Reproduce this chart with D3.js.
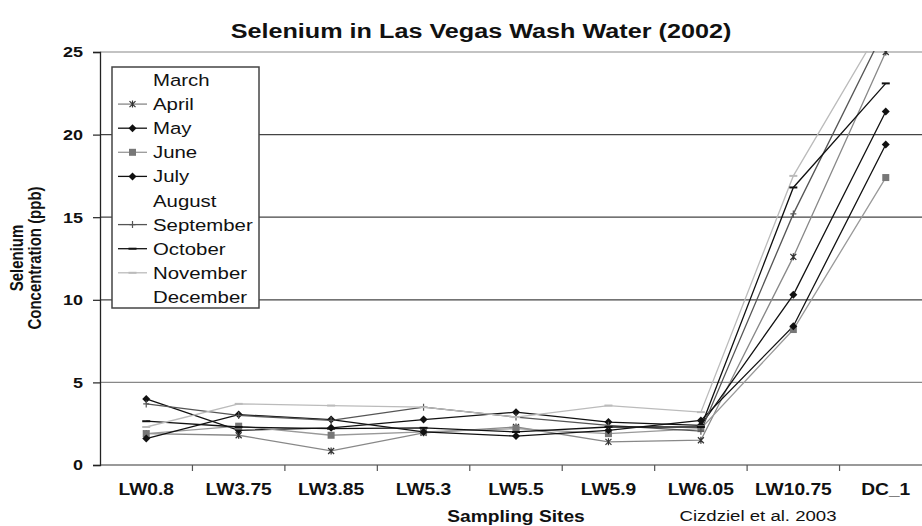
<!DOCTYPE html>
<html>
<head>
<meta charset="utf-8">
<script src="https://cdn.jsdelivr.net/npm/d3@7"></script>
<style>
  body { margin: 0; background: #fff; }
  text { font-family: "Liberation Sans", Arial, sans-serif; fill: #111; }
</style>
</head>
<body>
<div id="chart"></div>
<script>
// sampling sites and monthly selenium (ppb)
var sites = ["LW0.8", "LW3.75", "LW3.85", "LW5.3", "LW5.5", "LW5.9", "LW6.05", "LW10.75", "DC_1"];
var yTicks = [0, 5, 10, 15, 20, 25];

var march = [null, null, null, null, null, null, null, null, null];
var april = [1.9, 1.8, 0.85, 1.95, 2.3, 1.4, 1.5, 12.6, 25.0];
var may = [4.0, 2.1, 2.25, 2.75, 3.2, 2.6, 2.4, 10.3, 21.4];
var june = [1.9, 2.35, 1.8, 2.0, 2.2, 1.9, 2.2, 8.2, 17.4];
var july = [1.6, 3.05, 2.75, 2.0, 1.75, 2.1, 2.7, 8.4, 19.4];
var august = [null, null, null, null, null, null, null, null, null];
var september = [3.7, 3.0, 2.7, 3.5, 2.9, 2.4, 2.05, 15.2, 26.5];
var october = [2.65, 2.3, 2.2, 2.25, 2.0, 2.3, 2.3, 16.8, 23.1];
var november = [2.3, 3.7, 3.6, 3.5, 2.9, 3.6, 3.2, 17.5, 27.0];
var december = [null, null, null, null, null, null, null, null, null];

var series = [
  { name: "March", values: march, color: "#fff", mark: "none" },
  { name: "April", values: april, color: "#888", markColor: "#333", mark: "star" },
  { name: "May", values: may, color: "#111", mark: "diamond" },
  { name: "June", values: june, color: "#999", markColor: "#777", mark: "square" },
  { name: "July", values: july, color: "#111", mark: "diamond" },
  { name: "August", values: august, color: "#fff", mark: "none" },
  { name: "September", values: september, color: "#555", mark: "plus" },
  { name: "October", values: october, color: "#111", mark: "dash" },
  { name: "November", values: november, color: "#bbb", mark: "dash" },
  { name: "December", values: december, color: "#fff", mark: "none" }
];

var W = 922, H = 526, SX = 1.2;
var LEFT = 100, RIGHT = 932, TOP = 52, BOTTOM = 465;

var svg = d3.select("#chart").append("svg")
  .attr("width", W)
  .attr("height", H);

var x = d3.scaleBand().domain(sites).range([LEFT, RIGHT]);
var y = d3.scaleLinear().domain([0, 25]).range([BOTTOM, TOP]);
var cx = function (c) { return x(c) + x.bandwidth() / 2; };

// helper: text stretched sideways like the scanned original
function label(g, px, py, str, opts) {
  opts = opts || {};
  var t = g.append("text")
    .attr("transform", "translate(" + px + "," + py + ") scale(" + SX + ",1)" + (opts.rotate ? " rotate(" + opts.rotate + ")" : ""))
    .attr("text-anchor", opts.anchor || "start")
    .style("font-size", (opts.size || 16) + "px")
    .style("font-weight", opts.bold ? "bold" : "normal")
    .text(str);
  return t;
}

// gridlines
svg.append("g").selectAll("line")
  .data(yTicks.filter(function (d) { return d > 0; }))
  .enter().append("line")
  .attr("x1", LEFT).attr("x2", W)
  .attr("y1", function (d) { return y(d); })
  .attr("y2", function (d) { return y(d); })
  .style("stroke", function (d) { return (d === 25 || d === 5) ? "#888" : "#444"; })
  .style("stroke-width", 1.2);

// x axis line + ticks at category boundaries
svg.append("line")
  .attr("x1", LEFT).attr("x2", W)
  .attr("y1", BOTTOM).attr("y2", BOTTOM)
  .style("stroke", "#999").style("stroke-width", 2);

svg.append("g").selectAll("line")
  .data(sites.slice(1))
  .enter().append("line")
  .attr("x1", function (d) { return x(d); })
  .attr("x2", function (d) { return x(d); })
  .attr("y1", BOTTOM).attr("y2", BOTTOM + 6)
  .style("stroke", "#555").style("stroke-width", 1.2);

var xAxis = svg.append("g")
  .attr("transform", "translate(0," + BOTTOM + ")")
  .call(d3.axisBottom(x).tickSize(0));
xAxis.select(".domain").remove();
xAxis.selectAll("text")
  .attr("y", 30).attr("dy", null)
  .attr("transform", "scale(" + SX + ",1)")
  .style("font-size", "16px").style("font-weight", "bold")
  .style("font-family", "'Liberation Sans', Arial, sans-serif");

// y axis
var yAxis = svg.append("g")
  .attr("transform", "translate(" + LEFT + ",0)")
  .call(d3.axisLeft(y).tickValues(yTicks).tickSize(7));
yAxis.select(".domain").style("stroke", "#222").style("stroke-width", 1.3);
yAxis.selectAll(".tick line").style("stroke", "#222").style("stroke-width", 1.2);
yAxis.selectAll("text")
  .attr("x", -14.2)
  .attr("transform", "scale(" + SX + ",1)")
  .style("font-size", "15px").style("font-weight", "bold")
  .style("font-family", "'Liberation Sans', Arial, sans-serif");

// clip to plot area
svg.append("clipPath").attr("id", "plot")
  .append("rect").attr("x", LEFT).attr("y", TOP - 1).attr("width", W - LEFT).attr("height", BOTTOM - TOP + 2);

var line = d3.line()
  .defined(function (d) { return d != null; })
  .x(function (d, i) { return cx(sites[i]); })
  .y(function (d) { return y(d); });

var plot = svg.append("g").attr("clip-path", "url(#plot)");

plot.selectAll(".series")
  .data(series.filter(function (s) { return s.mark !== "none"; }))
  .enter().append("path")
  .attr("class", "series")
  .attr("d", function (s) { return line(s.values); })
  .style("fill", "none")
  .style("stroke", function (s) { return s.color; })
  .style("stroke-width", 1.3);

function drawMark(g, type, color) {
  if (type === "diamond") {
    g.append("path").attr("d", "M0,-4L4,0L0,4L-4,0Z").style("fill", color);
  } else if (type === "square") {
    g.append("rect").attr("x", -3.5).attr("y", -3.5).attr("width", 7).attr("height", 7).style("fill", color);
  } else if (type === "star") {
    g.append("path").attr("d", "M-3,-3L3,3M-3,3L3,-3M0,-3.5L0,3.5")
      .style("stroke", color).style("stroke-width", 1.2);
  } else if (type === "plus") {
    g.append("path").attr("d", "M0,-3.5L0,3.5M-3,0L3,0")
      .style("stroke", color).style("stroke-width", 1.2);
  } else if (type === "dash") {
    g.append("path").attr("d", "M-4,0L4,0")
      .style("stroke", color).style("stroke-width", 2);
  }
}

series.forEach(function (s) {
  if (s.mark === "none") return;
  s.values.forEach(function (v, i) {
    if (v == null || v > 25) return;
    var g = plot.append("g").attr("transform", "translate(" + cx(sites[i]) + "," + y(v) + ")");
    drawMark(g, s.mark, s.markColor || s.color);
  });
});

// legend
var leg = svg.append("g");
leg.append("rect")
  .attr("x", 112).attr("y", 67).attr("width", 147).attr("height", 241)
  .style("fill", "#fff").style("stroke", "#444").style("stroke-width", 1.5);

series.forEach(function (s, i) {
  var ry = 80 + i * 24.1;
  if (s.mark !== "none") {
    leg.append("line")
      .attr("x1", 118).attr("x2", 147).attr("y1", ry).attr("y2", ry)
      .style("stroke", s.color).style("stroke-width", 1.3);
    drawMark(leg.append("g").attr("transform", "translate(132.5," + ry + ")"), s.mark, s.markColor || s.color);
  }
  label(leg, 153, ry + 6, s.name, { size: 17 });
});

// titles
label(svg, 481, 38, "Selenium in Las Vegas Wash Water (2002)", { size: 21, bold: true, anchor: "middle" });
label(svg, 516, 522, "Sampling Sites", { size: 16, bold: true, anchor: "middle" });
label(svg, 758, 521, "Cizdziel et al. 2003", { size: 15.5, anchor: "middle" });
label(svg, 23, 258, "Selenium", { size: 15, bold: true, anchor: "middle", rotate: -90 });
label(svg, 41, 258, "Concentration (ppb)", { size: 15, bold: true, anchor: "middle", rotate: -90 });
</script>
</body>
</html>
